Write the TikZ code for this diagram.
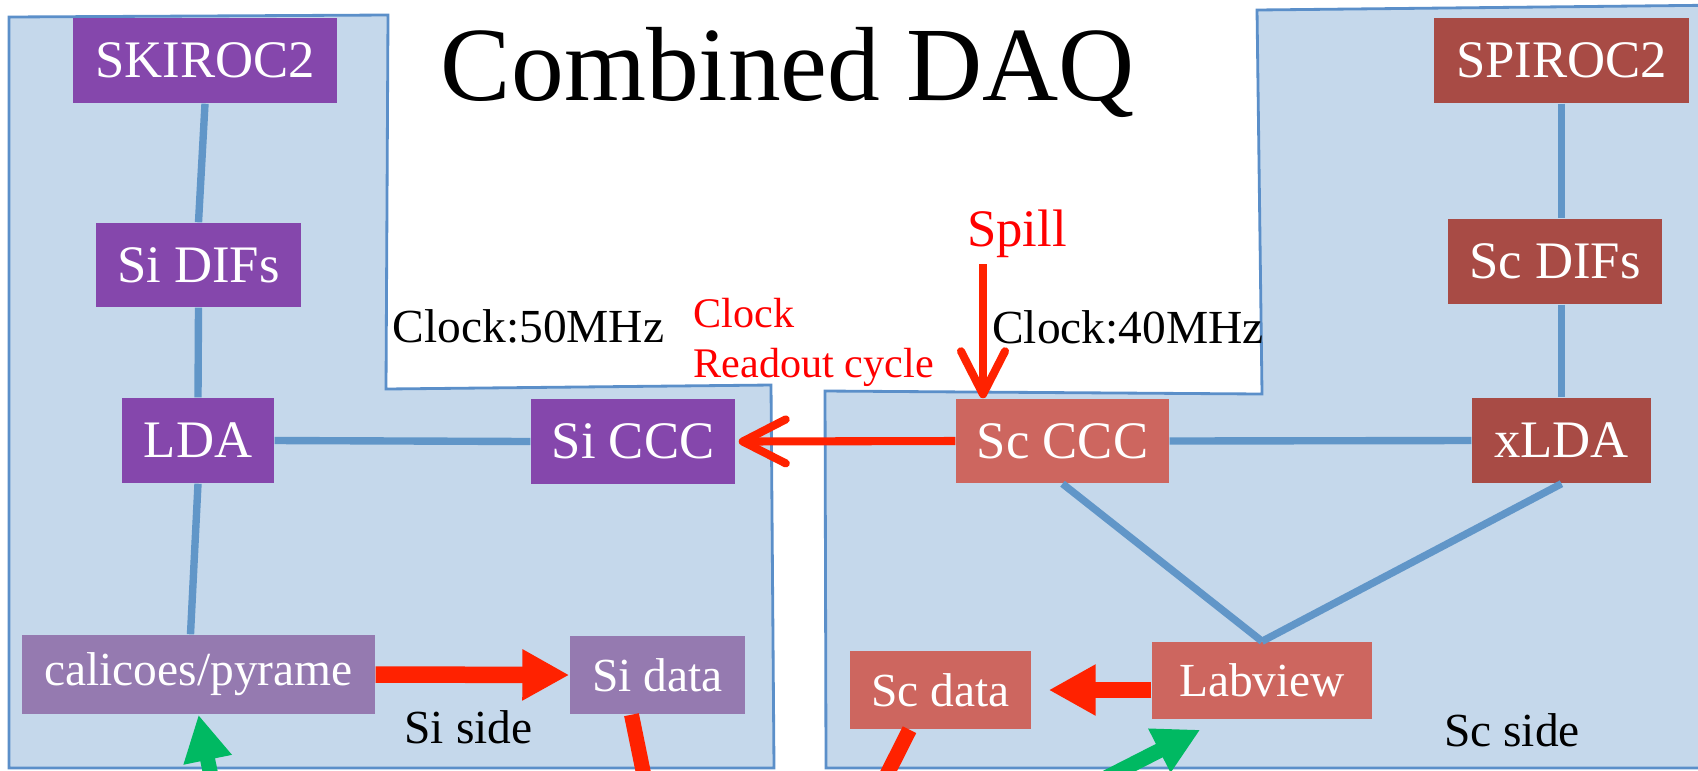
\documentclass[tikz,border=0pt]{standalone}
\usepackage{fontspec}
\setmainfont{Liberation Serif}
\usepackage{tikz}
\usetikzlibrary{arrows.meta}

\definecolor{panelfill}{RGB}{197,216,235}
\definecolor{paneledge}{RGB}{91,143,201}
\definecolor{busblue}{RGB}{97,150,200}
\definecolor{siDark}{RGB}{133,71,172}
\definecolor{siLite}{RGB}{149,122,176}
\definecolor{scDark}{RGB}{168,75,69}
\definecolor{scLite}{RGB}{205,102,95}
\definecolor{sigred}{RGB}{255,34,0}
\definecolor{sigred2}{RGB}{255,0,0}
\definecolor{fwgreen}{RGB}{0,185,98}

\begin{document}
\begin{tikzpicture}[
    blk/.style={rectangle, inner sep=0pt, text=white, font=\fontsize{15}{18}\selectfont},
    sibox/.style={blk, fill=siDark},
    silite/.style={blk, fill=siLite, font=\fontsize{13.5}{16}\selectfont},
    scbox/.style={blk, fill=scDark},
    sclite/.style={blk, fill=scLite},
    bus/.style={draw=busblue, line width=2.1pt},
    sig/.style={draw=sigred, line width=2.3pt, -{Straight Barb[length=0.43cm,width=0.44cm,round]}},
    fatred/.style={draw=sigred, line width=0.165cm, -{Triangle[length=0.47cm,width=0.48cm]}},
    fatgreen/.style={draw=fwgreen, line width=0.15cm, -{Triangle[length=0.46cm,width=0.46cm]}},
    panel/.style={fill=panelfill, draw=paneledge, line width=0.8pt}
]
    \useasboundingbox (0,0) rectangle (16.98,-7.70);
    \clip (0,0) rectangle (16.98,-7.70);

    % the two sides
    \draw[panel] (0.09,-0.17) -- (3.88,-0.15) -- (3.86,-3.89) -- (7.71,-3.85) -- (7.74,-7.68) -- (0.09,-7.68) -- cycle;
    \draw[panel] (12.57,-0.10) -- (17.3,-0.05) -- (17.3,-7.68) -- (8.26,-7.68) -- (8.25,-3.91) -- (12.62,-3.94) -- cycle;

    \node[anchor=base, font=\fontsize{30}{36}\selectfont] (title) at (7.88,-1.00) {Combined DAQ};

    % Si side
    \node[sibox, minimum width=2.64cm, minimum height=0.85cm] (skiroc) at (2.05,-0.605) {SKIROC2};
    \node[sibox, minimum width=2.05cm, minimum height=0.84cm] (sidif) at (1.985,-2.65) {Si DIFs};
    \node[sibox, minimum width=1.52cm, minimum height=0.85cm] (lda) at (1.98,-4.405) {LDA};
    \node[sibox, minimum width=2.04cm, minimum height=0.85cm] (siccc) at (6.33,-4.415) {Si CCC};
    \node[silite, minimum width=3.53cm, minimum height=0.79cm] (cal) at (1.985,-6.745) {calicoes/pyrame};
    \node[silite, minimum width=1.75cm, minimum height=0.78cm] (sidata) at (6.575,-6.75) {Si data};

    % Sc side
    \node[scbox, minimum width=2.55cm, minimum height=0.85cm] (spiroc) at (15.615,-0.605) {SPIROC2};
    \node[scbox, minimum width=2.14cm, minimum height=0.85cm] (scdif) at (15.55,-2.615) {Sc DIFs};
    \node[scbox, minimum width=1.79cm, minimum height=0.85cm] (xlda) at (15.615,-4.405) {xLDA};
    \node[sclite, minimum width=2.13cm, minimum height=0.84cm] (sccc) at (10.625,-4.41) {Sc CCC};
    \node[sclite, minimum width=2.20cm, minimum height=0.77cm, font=\fontsize{13.5}{16}\selectfont] (lab) at (12.62,-6.805) {Labview};
    \node[sclite, minimum width=1.81cm, minimum height=0.78cm, font=\fontsize{13.5}{16}\selectfont] (scdata) at (9.405,-6.90) {Sc data};

    % labels
    \node[anchor=base, font=\fontsize{13.5}{16}\selectfont] (clk50) at (5.285,-3.42) {Clock:50MHz};
    \node[anchor=base, font=\fontsize{13.5}{16}\selectfont] (clk40) at (11.28,-3.43) {Clock:40MHz};
    \node[anchor=base, text=sigred2, font=\fontsize{15}{18}\selectfont] (spill) at (10.17,-2.46) {Spill};
    \node[anchor=north west, inner sep=0pt, align=left, text=sigred2, font=\fontsize{12}{14.2}\selectfont] (ro) at (6.93,-2.98) {Clock\\Readout cycle};
    \node[anchor=base, font=\fontsize{13.5}{16}\selectfont] (siside) at (4.685,-7.43) {Si side};
    \node[anchor=base, font=\fontsize{13.5}{16}\selectfont] (scside) at (15.12,-7.46) {Sc side};

    % readout links
    \draw[bus] (skiroc.south) -- (sidif.north);
    \draw[bus] (sidif.south) -- (lda.north);
    \draw[bus] (lda.south) -- ([xshift=-0.8mm]cal.north);
    \draw[bus] (lda.east) -- (siccc.west);
    \draw[bus] (spiroc.south) -- (spiroc.south |- scdif.north);
    \draw[bus] (xlda.north |- scdif.south) -- (xlda.north);
    \draw[bus] (sccc.east) -- (xlda.west);
    \draw[bus] (sccc.south) -- (lab.north);
    \draw[bus] (xlda.south) -- (lab.north);

    % clock and spill
    \coordinate (spillin) at (9.83,-2.64);
    \draw[sig] (spillin) -- (spillin |- sccc.north);
    \draw[sig] (sccc.west) -- ([xshift=0.3mm]siccc.east);

    % data flow
    \draw[fatred] (cal.east) -- (sidata.west);
    \draw[fatred] (lab.west |- scdata) -- ([xshift=1.7mm]scdata.east);
    \coordinate (sidown) at (6.51,-8.1);
    \coordinate (scdown) at (8.69,-8.1);
    \draw[draw=sigred, line width=0.15cm] ([xshift=-2.6mm]sidata.south) -- (sidown);
    \draw[draw=sigred, line width=0.15cm] ([xshift=-3.1mm]scdata.south) -- (scdown);

    \coordinate (calin) at (2.22,-8.3);
    \coordinate (labin) at (10.78,-7.92);
    \draw[fatgreen] (calin) -- (cal.south);
    \draw[fatgreen] (labin) -- ([shift={(0.49,-0.10)}]lab.south west);

\end{tikzpicture}
\end{document}
